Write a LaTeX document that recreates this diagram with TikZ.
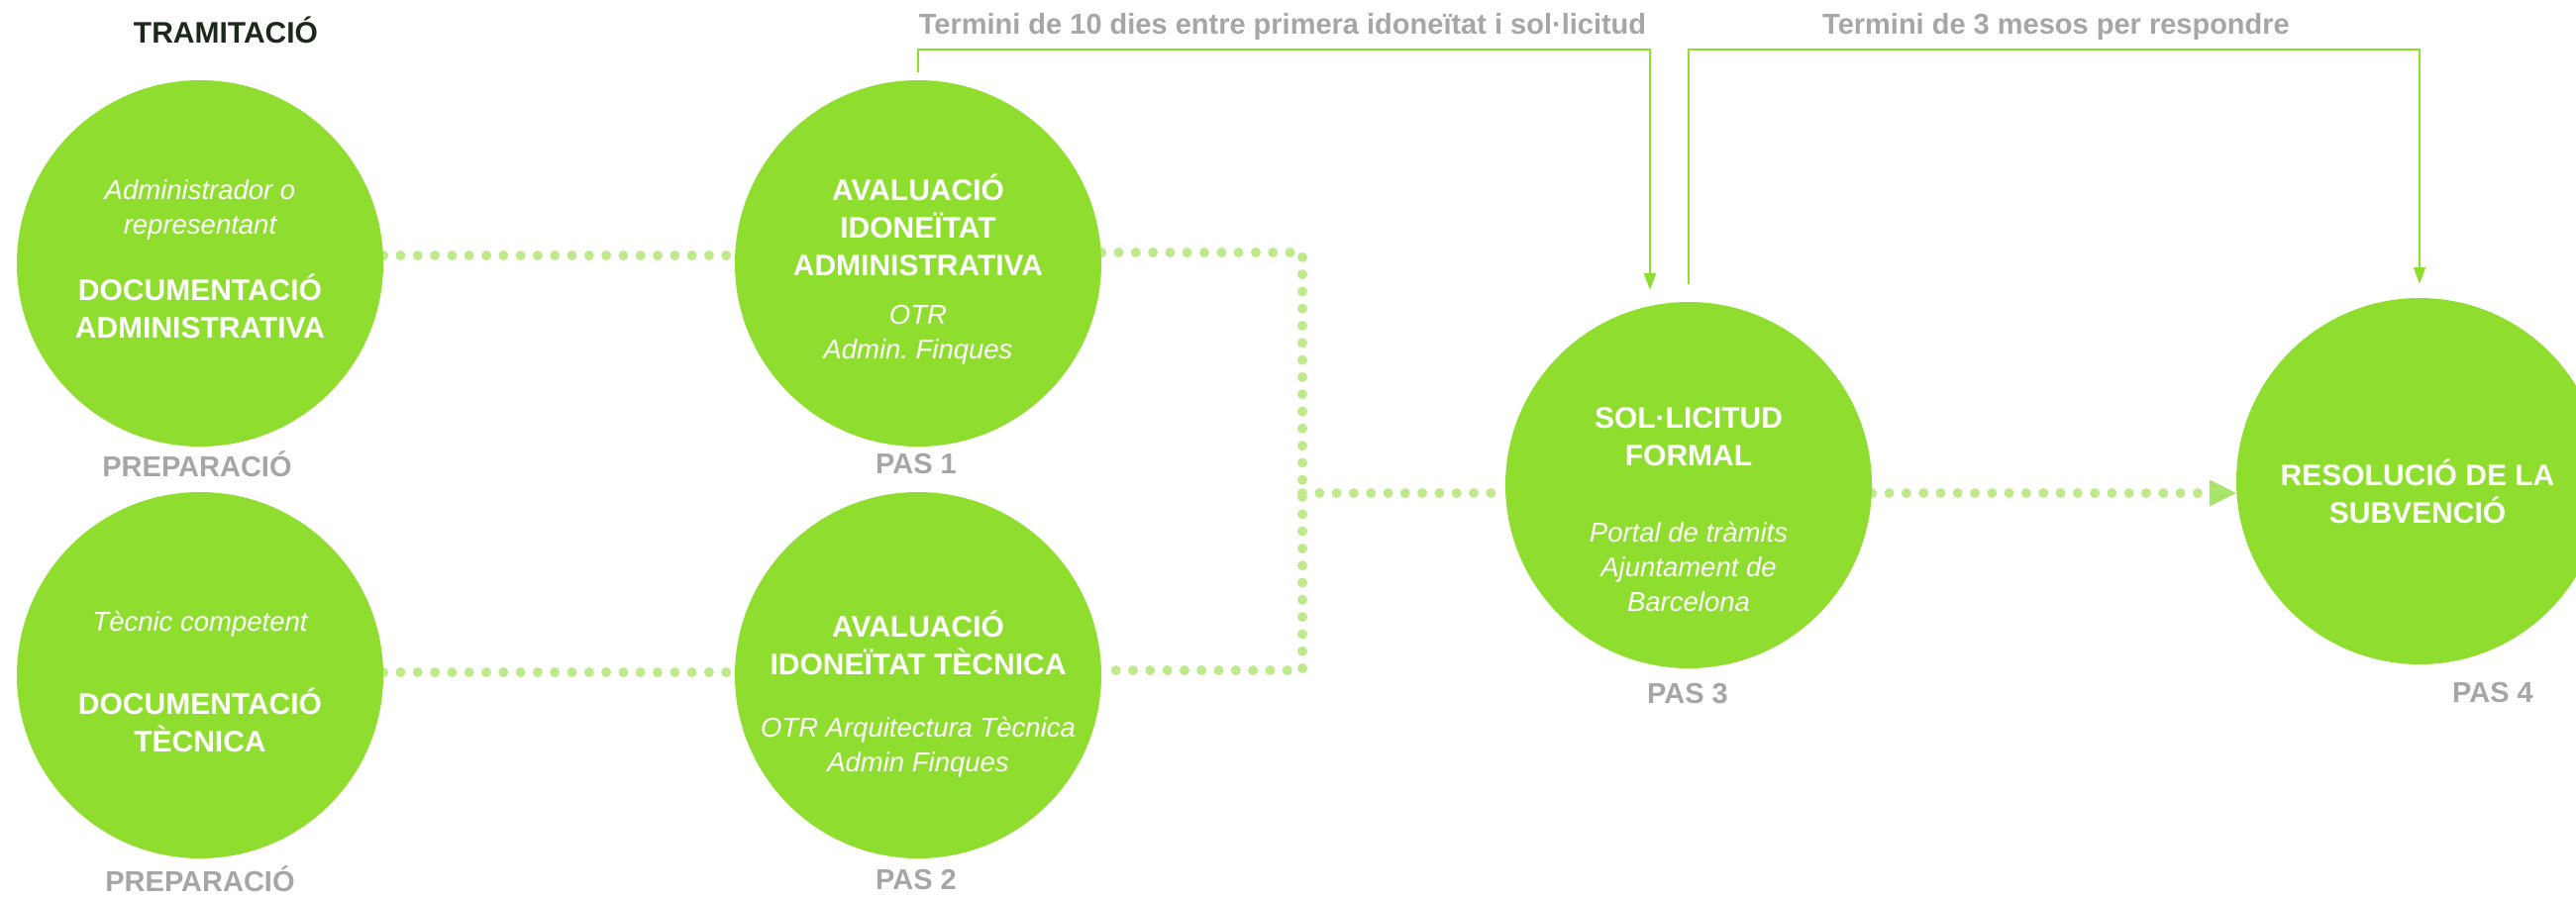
\documentclass[tikz,border=0pt]{standalone}
\usepackage{fontspec}
\setmainfont{Liberation Sans}
\usetikzlibrary{arrows.meta,backgrounds}
\definecolor{circgreen}{RGB}{143,222,47}
\definecolor{dotgreen}{RGB}{190,234,140}
\definecolor{arrgreen}{RGB}{168,228,105}
\definecolor{labgray}{RGB}{166,166,166}
\definecolor{titdark}{RGB}{28,40,28}
\frenchspacing
\begin{document}
\begin{tikzpicture}[x=1pt,y=-1pt,
  stepc/.style={circle, fill=circgreen, draw=none, minimum size=370pt, inner sep=0pt},
  boldt/.style={text=white, font=\fontsize{30}{38}\selectfont\bfseries, align=center, inner sep=0pt},
  itt/.style={text=white, font=\fontsize{27.5}{35}\selectfont\itshape, align=center, inner sep=0pt},
  lab/.style={text=labgray, font=\fontsize{29}{35}\selectfont\bfseries, inner sep=0pt},
  dots/.style={draw=dotgreen, line width=10pt, line cap=round, dash pattern=on 0pt off 17.3pt},
  bracket/.style={draw=circgreen, line width=2.6pt, -{Triangle[length=17pt,width=12pt]}}
]
\useasboundingbox (0,0) rectangle (2601,906);

% circles
\node[stepc] (c1) at (202,266) {};
\node[stepc] (c2) at (927,266) {};
\node[stepc] (c3) at (202,682) {};
\node[stepc] (c4) at (927,682) {};
\node[stepc] (c5) at (1705,490) {};
\node[stepc] (c6) at (2443,486) {};

% junction coordinates
\coordinate (j1) at (1315,255);
\coordinate (j2) at (1315,677);
\coordinate (jm) at (1315,498);

\begin{scope}[on background layer]
  \fill[white] (0,0) rectangle (2601,906);
  \draw[dots] ([yshift=8pt]c1.east) -- ([yshift=8pt]c2.west);
  \draw[dots] ([yshift=3pt]c3.east) -- ([yshift=3pt]c4.west);
  \draw[dots] (c2.east |- j1) -- (j1) -- (j2) -- (c4.east |- j2);
  \draw[dots] (jm) -- (c5.west |- jm);
  \draw[dots, -{Triangle[length=27pt,width=27pt,line width=0pt,fill=arrgreen]}] (c5.east |- jm) -- (c6.west |- jm);
\end{scope}

% brackets
\draw[bracket] ([yshift=8pt]c2.north) -- ++(0,-23) -| ([xshift=-39pt,yshift=12pt]c5.north);
\draw[bracket] ([yshift=18pt]c5.north) -- ++(0,-237) -| ([yshift=14pt]c6.north);

% texts
\node[text=titdark, font=\fontsize{30}{36}\selectfont\bfseries, inner sep=0pt] (tit) at (228,30) {TRAMITACIÓ};
\node[lab] (t1) at (1295,27) {Termini de 10 dies entre primera idoneïtat i sol·licitud};
\node[lab] (t2) at (2076,27) {Termini de 3 mesos per respondre};

\node[itt] (c1a) at (202,212) {Administrador o\\representant};
\node[boldt] (c1b) at (202,309) {DOCUMENTACIÓ\\ADMINISTRATIVA};

\node[boldt] (c2a) at (927,227) {AVALUACIÓ\\IDONEÏTAT\\ADMINISTRATIVA};
\node[itt] (c2b) at (927,338) {OTR\\Admin. Finques};

\node[itt] (c3a) at (202,630) {Tècnic competent};
\node[boldt] (c3b) at (202,727) {DOCUMENTACIÓ\\TÈCNICA};

\node[boldt] (c4a) at (927,649) {AVALUACIÓ\\IDONEÏTAT TÈCNICA};
\node[itt] (c4b) at (927,755) {OTR Arquitectura Tècnica\\Admin Finques};

\node[boldt] (c5a) at (1705,441) {SOL·LICITUD\\FORMAL};
\node[itt] (c5b) at (1705,572) {Portal de tràmits\\Ajuntament de\\Barcelona};

\node[boldt] (c6a) at (2441,496) {RESOLUCIÓ DE LA\\SUBVENCIÓ};

\node[lab] (l1) at (199,469) {PREPARACIÓ};
\node[lab] (l2) at (925,469) {PAS 1};
\node[lab] (l3) at (202,888) {PREPARACIÓ};
\node[lab] (l4) at (925,888) {PAS 2};
\node[lab] (l5) at (1704,701) {PAS 3};
\node[lab] (l6) at (2517,700) {PAS 4};
\end{tikzpicture}
\end{document}
